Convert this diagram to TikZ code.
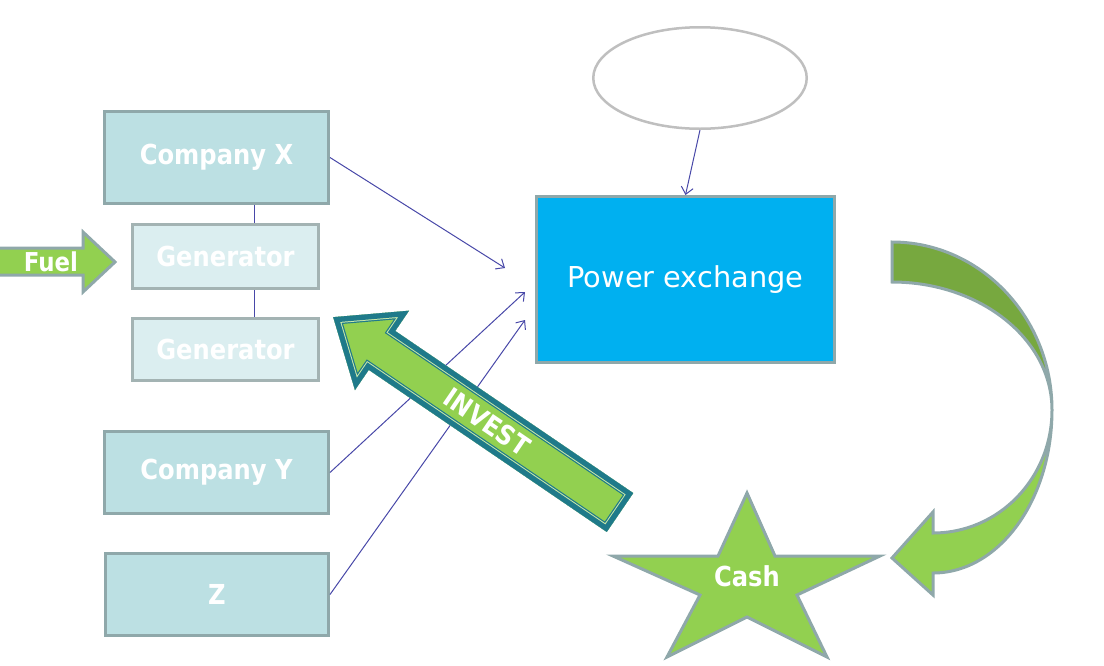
\documentclass[tikz,border=0pt]{standalone}
\usepackage{fontspec}
\setmainfont{DejaVu Sans}
\newfontfamily\lblfont[FakeStretch=0.88]{DejaVu Sans}
\usetikzlibrary{shapes.geometric,arrows.meta}
\definecolor{cofill}{HTML}{BCE0E3}
\definecolor{genfill}{HTML}{DBEEF0}
\definecolor{bord}{HTML}{8FA8AA}
\definecolor{genbord}{HTML}{A3B3B3}
\definecolor{pxblue}{HTML}{00B0F0}
\definecolor{ellgray}{HTML}{BFBFBF}
\definecolor{conn}{HTML}{4848A8}
\definecolor{lgreen}{HTML}{92D050}
\definecolor{dgreen}{HTML}{77A83F}
\definecolor{teal}{HTML}{1F7A8A}
\definecolor{paleline}{HTML}{C8E8A8}
\tikzset{
  x=1pt, y=-1pt,
  lbl/.style={font=\lblfont\bfseries\fontsize{27.5}{32}\selectfont, text=white},
  cobox/.style={draw=bord, fill=cofill, line width=3pt, inner sep=0pt, lbl},
  genbox/.style={draw=genbord, fill=genfill, line width=3pt, inner sep=0pt, lbl},
  conline/.style={draw=conn, line width=1pt},
  contip/.style={conline, -{Straight Barb[length=7pt,width=12pt]}},
  shapeb/.style={draw=bord, line width=3pt, line join=miter}
}
\begin{document}
\begin{tikzpicture}
\useasboundingbox (0,0) rectangle (1104,665);

% boxes
\node[cobox, minimum width=224pt, minimum height=92pt] (cx) at (216.5,157.5) {Company X};
\node[genbox, minimum width=186pt, minimum height=64pt] (g1) at (225.5,256.5) {Generator};
\node[genbox, minimum width=186pt, minimum height=62pt] (g2) at (225.5,349.5) {Generator};
\node[cobox, minimum width=224pt, minimum height=82pt] (cy) at (216.5,472.5) {Company Y};
\node[cobox, minimum width=223pt, minimum height=82pt] (z) at (217,594.5) {Z};
\node[draw=bord, fill=pxblue, line width=3pt, inner sep=0pt, minimum width=298pt, minimum height=166pt,
      text=white, font=\fontsize{28.8}{34}\selectfont] (px) at (685.5,279.5) {Power exchange};
\node[ellipse, draw=ellgray, line width=2.5pt, inner sep=0pt, minimum width=213.5pt, minimum height=101.5pt] (ell) at (700,78) {};

% connectors
\coordinate (v) at (254,0);
\draw[conline] (cx.south -| v) -- (g1.north -| v);
\draw[conline] (g1.south -| v) -- (g2.north -| v);
\coordinate (ex) at (505,268);
\coordinate (ey) at (525,292);
\coordinate (ez) at (525,320);
\draw[contip] (cx.east) -- (ex);
\draw[contip] (cy.east) -- (ey);
\draw[contip] (z.east) -- (ez);
\draw[contip] (ell.south) -- (px.north);

% fuel arrow
\path[shapeb, fill=lgreen] (-3,248) -- (83,248) -- (83,232) -- (115,262) -- (83,292) -- (83,275) -- (-3,275) -- cycle;
\node[lbl, font=\lblfont\bfseries\fontsize{26}{30}\selectfont] (fuel) at (51,262) {Fuel};

% curved arrow
\path[shapeb, fill=dgreen] (892,242) .. controls (980,242) and (1052,317) .. (1052,410)
   .. controls (1052,339) and (980,282) .. (892,282) -- cycle;
\path[shapeb, fill=lgreen] (1052,410) .. controls (1052,478) and (999,533) .. (933,533)
   -- (933,512) -- (892,558) -- (933,595) -- (933,573)
   .. controls (999,573) and (1052,500) .. (1052,410) -- cycle;

% star
\path[shapeb, fill=lgreen] (747,493) -- (775,556) -- (880,556) -- (797,595) -- (827,657)
   -- (747,617) -- (667,657) -- (700,595) -- (613,556) -- (718,556) -- cycle;
\node[lbl] (cash) at (747,576) {Cash};

% invest arrow
\def\investpath{(0,-23.5) -- (288,-23.5) -- (288,-48) -- (347,0) -- (288,48) -- (288,23.5) -- (0,23.5) -- cycle}
\begin{scope}[shift={(620,512.5)}, rotate=145.74]
  \fill[lgreen] \investpath;
  \begin{scope}
    \clip \investpath;
    \draw[teal, line width=15pt, line join=miter] \investpath;
    \draw[paleline, line width=12.6pt, line join=miter] \investpath;
    \draw[teal, line width=10.6pt, line join=miter] \investpath;
  \end{scope}
  \node[lbl, font=\lblfont\bfseries\fontsize{27}{30}\selectfont, rotate=-34.26] (invest) at (160.8,0) {INVEST};
\end{scope}
\end{tikzpicture}
\end{document}
